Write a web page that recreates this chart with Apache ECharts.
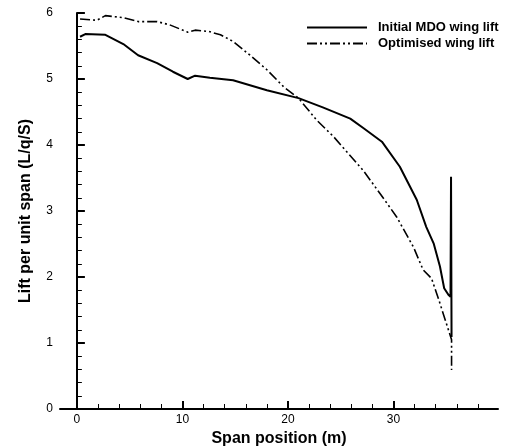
<!DOCTYPE html>
<html>
<head>
<meta charset="utf-8">
<script src="https://cdn.jsdelivr.net/npm/echarts@6/dist/echarts.min.js"></script>
<style>
  html, body { margin: 0; padding: 0; background: #fff; }
  #chart { width: 509px; height: 448px; }
</style>
</head>
<body>
<div id="chart"></div>
<script>
// span position (m) and lift per unit span
const spanInitial = [0.3, 0.8, 2.7, 4.4, 5.8, 7.6, 9.1, 10.5, 11.2, 12.6, 14.8, 18.0, 21.0, 23.3, 25.9, 27.2, 28.9, 30.6, 32.2, 33.1, 33.8, 34.4, 34.8, 35.2, 35.4, 35.45, 35.5]
const liftInitial = [5.64, 5.68, 5.67, 5.53, 5.36, 5.24, 5.11, 5.0, 5.05, 5.02, 4.98, 4.83, 4.71, 4.57, 4.40, 4.25, 4.05, 3.67, 3.17, 2.76, 2.51, 2.16, 1.83, 1.73, 1.70, 3.52, 1.09]

const spanOptimised = [0.3, 1.9, 2.7, 4.4, 5.8, 7.6, 8.8, 10.5, 11.2, 12.5, 13.6, 14.8, 16.4, 18.0, 19.6, 21.0, 22.7, 24.3, 27.1, 28.7, 30.3, 31.9, 32.8, 33.6, 34.3, 34.9, 35.3, 35.5, 35.5]
const liftOptimised = [5.91, 5.89, 5.96, 5.93, 5.87, 5.87, 5.82, 5.71, 5.74, 5.72, 5.67, 5.57, 5.36, 5.14, 4.88, 4.71, 4.38, 4.13, 3.62, 3.27, 2.91, 2.45, 2.11, 1.98, 1.65, 1.35, 1.15, 1.05, 0.59]

const xMajorTicks = [0, 10, 20, 30]
const xMinorTicks = [2, 4, 6, 8, 12, 14, 16, 18, 22, 24, 26, 28, 32, 34, 36, 38]

const font = 'Liberation Sans, Arial, sans-serif'

const pairs = (xs, ys) => xs.map((x, i) => [x, ys[i]])

const chart = echarts.init(document.getElementById('chart'))

const baseX = {
  type: 'value',
  min: -1.6,
  max: 39.9,
  splitLine: { show: false },
}

chart.setOption({
  animation: false,
  grid: {
    left: 60,
    right: 11,
    top: 13,
    bottom: 39,
    outerBoundsMode: 'none',
  },
  legend: {
    left: 306,
    top: 21,
    padding: 0,
    orient: 'vertical',
    itemWidth: 60,
    itemHeight: 14,
    itemGap: 3,
    itemStyle: { color: 'transparent', borderColor: 'transparent', borderWidth: 0 },
    textStyle: {
      fontFamily: font,
      fontSize: 13,
      fontWeight: 'bold',
      color: '#000',
      padding: [0, 0, 0, 6],
    },
    data: ['Initial MDO wing lift', 'Optimised wing lift'],
  },
  xAxis: [
    {
      ...baseX,
      name: 'Span position (m)',
      nameLocation: 'middle',
      nameGap: 20,
      nameTextStyle: { fontFamily: font, fontSize: 16, fontWeight: 'bold', color: '#000' },
      axisLine: { lineStyle: { color: '#000', width: 2 } },
      axisTick: { inside: true, length: 8, customValues: xMajorTicks, lineStyle: { color: '#000', width: 2 } },
      axisLabel: { customValues: xMajorTicks, margin: 5, fontFamily: font, fontSize: 12, color: '#000' },
    },
    {
      ...baseX,
      position: 'bottom',
      axisLine: { show: false },
      axisLabel: { show: false },
      axisTick: { inside: true, length: 5, customValues: xMinorTicks, lineStyle: { color: '#000', width: 1 } },
    },
  ],
  yAxis: {
    type: 'value',
    min: 0,
    max: 6,
    interval: 1,
    name: 'Lift per unit span (L/q/S)',
    nameLocation: 'middle',
    nameGap: 26,
    nameTextStyle: { fontFamily: font, fontSize: 16, fontWeight: 'bold', color: '#000' },
    axisLine: { show: true, lineStyle: { color: '#000', width: 2 } },
    axisTick: { show: true, inside: true, length: 8, lineStyle: { color: '#000', width: 2 } },
    minorTick: { show: true, splitNumber: 5, length: 5, lineStyle: { color: '#000', width: 1 } },
    axisLabel: { margin: 7, fontFamily: font, fontSize: 12, color: '#000' },
    splitLine: { show: false },
  },
  series: [
    {
      name: 'Initial MDO wing lift',
      type: 'line',
      data: pairs(spanInitial, liftInitial),
      showSymbol: false,
      symbol: 'none',
      lineStyle: { color: '#000', width: 2 },
      itemStyle: { color: '#000' },
    },
    {
      name: 'Optimised wing lift',
      type: 'line',
      data: pairs(spanOptimised, liftOptimised),
      showSymbol: false,
      symbol: 'none',
      lineStyle: { color: '#000', width: 1.6, type: [10, 3, 2, 3, 2, 3] },
      itemStyle: { color: '#000' },
    },
  ],
})
</script>
</body>
</html>
